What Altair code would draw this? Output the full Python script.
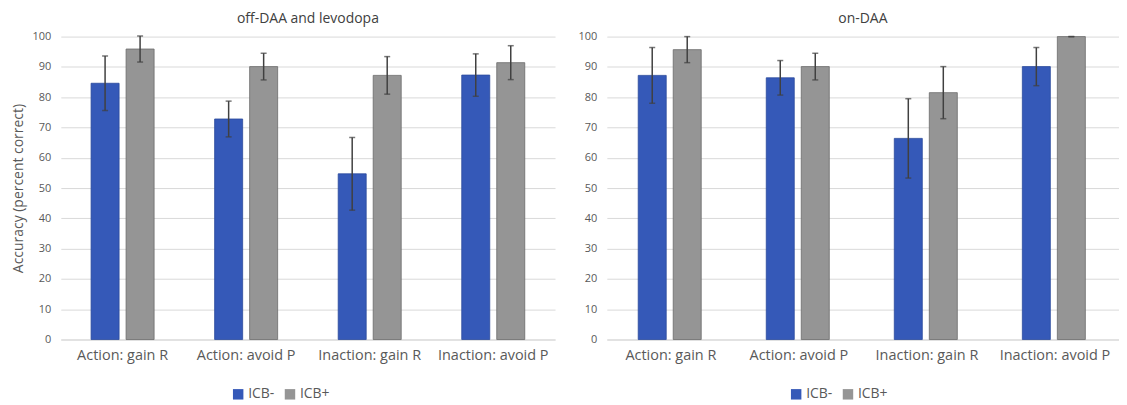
import altair as alt
import pandas as pd

categories = ["Action: gain R", "Action: avoid P", "Inaction: gain R", "Inaction: avoid P"]
groups = ["ICB-", "ICB+"]

off_minus = [84.6, 72.8, 54.7, 87.3]
off_minus_err = [9.0, 5.9, 12.0, 7.0]
off_plus = [95.9, 90.1, 87.2, 91.4]
off_plus_err = [4.3, 4.4, 6.2, 5.6]

on_minus = [87.2, 86.4, 66.4, 90.1]
on_minus_err = [9.2, 5.7, 13.1, 6.3]
on_plus = [95.7, 90.1, 81.5, 100.0]
on_plus_err = [4.3, 4.4, 8.6, 0.0]

y_ticks = list(range(0, 101, 10))

FONT = "Open Sans"
BLUE = "#3559b8"
GRAY = "#959595"
TXT = "#595959"


def make_df(minus, minus_err, plus, plus_err):
    rows = []
    for c, m, me, p, pe in zip(categories, minus, minus_err, plus, plus_err):
        rows.append(dict(cat=c, grp="ICB-", val=m, lo=m - me, hi=m + me))
        rows.append(dict(cat=c, grp="ICB+", val=p, lo=p - pe, hi=p + pe))
    return pd.DataFrame(rows)


def panel(df, title, width, ytitle, legend_x):
    xenc = alt.X(
        "cat:N", sort=categories,
        scale=alt.Scale(paddingInner=0.49, paddingOuter=0.245),
        axis=alt.Axis(title=None, labelAngle=0, labelFontSize=14.5, labelColor=TXT,
                      labelPadding=9, ticks=False, domainColor="#d9d9d9",
                      labelFont=FONT, grid=False),
    )
    xoff = alt.XOffset("grp:N", sort=groups, scale=alt.Scale(paddingInner=0.2))
    yaxis = alt.Axis(values=y_ticks, title=ytitle, titleFontSize=14, titleFont=FONT,
                     titleFontWeight="normal", titleColor=TXT, titlePadding=7,
                     labelFontSize=11, labelColor=TXT, labelFont=FONT, labelPadding=10,
                     ticks=False, domain=False, grid=True, gridColor="#d9d9d9")
    yscale = alt.Scale(domain=[0, 100])
    base = alt.Chart(df).encode(x=xenc, xOffset=xoff)
    bars = base.mark_bar(strokeWidth=0.8).encode(
        y=alt.Y("val:Q", scale=yscale, axis=yaxis),
        color=alt.Color("grp:N", sort=groups,
                        scale=alt.Scale(domain=groups, range=[BLUE, GRAY]),
                        legend=alt.Legend(title=None, orient="none", legendX=legend_x,
                                          legendY=352, direction="horizontal",
                                          symbolType="square", symbolSize=110,
                                          labelFontSize=14, labelFont=FONT,
                                          labelColor=TXT, columnPadding=8,
                                          labelOffset=3, symbolStrokeWidth=0)),
        stroke=alt.Stroke("grp:N", sort=groups,
                          scale=alt.Scale(domain=groups, range=["#2b4a9c", "#6b6b6b"]),
                          legend=None),
    )
    rule = base.mark_rule(color="#404040", strokeWidth=1.5).encode(
        y=alt.Y("lo:Q", scale=yscale, axis=yaxis), y2="hi:Q")
    cap_hi = base.mark_tick(color="#404040", size=6, thickness=1.5).encode(
        y=alt.Y("hi:Q", scale=yscale, axis=yaxis))
    cap_lo = base.mark_tick(color="#404040", size=6, thickness=1.5).encode(
        y=alt.Y("lo:Q", scale=yscale, axis=yaxis))
    return alt.layer(bars, rule, cap_hi, cap_lo).properties(
        width=width, height=304,
        title=alt.TitleParams(title, fontSize=14, fontWeight="normal", color="#404040",
                              font=FONT, anchor="middle", offset=5),
    )


left = panel(make_df(off_minus, off_minus_err, off_plus, off_plus_err),
             "off-DAA and levodopa", 496, "Accuracy (percent correct)", 171)
right = panel(make_df(on_minus, on_minus_err, on_plus, on_plus_err),
              "on-DAA", 514, None, 183)

chart = alt.hconcat(left, right, spacing=23).resolve_legend(color="independent").configure_view(
    stroke=None).properties(padding={"left": 3, "top": 3, "right": 0, "bottom": 0})

chart.save("out.html", embed_options={"renderer": "svg", "actions": False})
